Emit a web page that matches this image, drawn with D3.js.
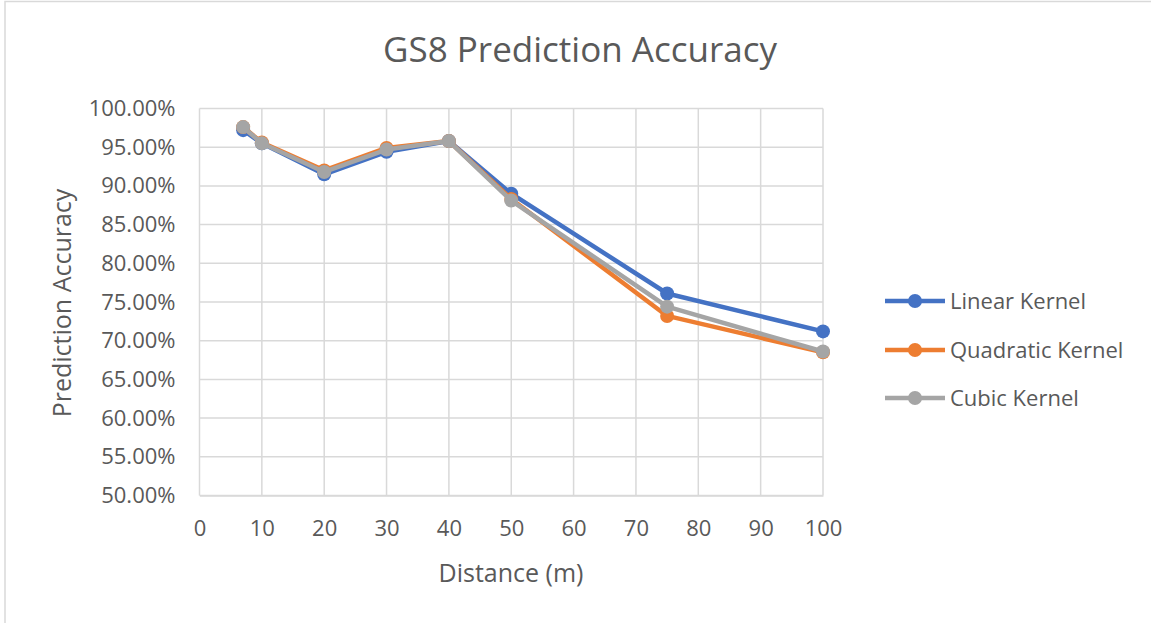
<!DOCTYPE html>
<html>
<head>
<meta charset="utf-8">
<script src="https://cdn.jsdelivr.net/npm/d3@7"></script>
<style>
  body { margin: 0; background: #fff; }
  text { font-family: 'Open Sans', 'Noto Sans', sans-serif; fill: #595959; }
</style>
</head>
<body>
<script>
// data
const distances = [7, 10, 20, 30, 40, 50, 75, 100];
const linearKernel = [0.972, 0.955, 0.915, 0.944, 0.958, 0.890, 0.761, 0.712];
const quadraticKernel = [0.976, 0.956, 0.920, 0.949, 0.958, 0.883, 0.732, 0.685];
const cubicKernel = [0.976, 0.955, 0.918, 0.947, 0.958, 0.881, 0.744, 0.686];
const seriesNames = ['Linear Kernel', 'Quadratic Kernel', 'Cubic Kernel'];
const seriesColors = ['#4472C4', '#ED7D31', '#A5A5A5'];
const xTicks = [0, 10, 20, 30, 40, 50, 60, 70, 80, 90, 100];
const yTicks = [0.5, 0.55, 0.6, 0.65, 0.7, 0.75, 0.8, 0.85, 0.9, 0.95, 1.0];

const width = 1151;
const height = 623;
const plot = { left: 199.5, right: 823, top: 108.5, bottom: 495.5 };

const svg = d3.select('body')
  .append('svg')
  .attr('width', width)
  .attr('height', height);

// chart frame
svg.append('rect')
  .attr('x', 5)
  .attr('y', 1.5)
  .attr('width', width + 10)
  .attr('height', height + 10)
  .attr('fill', 'none')
  .attr('stroke', '#d9d9d9')
  .attr('stroke-width', 1.5);

const x = d3.scaleLinear()
  .domain([0, 100])
  .range([plot.left, plot.right]);

const y = d3.scaleLinear()
  .domain([0.5, 1.0])
  .range([plot.bottom, plot.top]);

// grid
const grid = svg.append('g');

grid.selectAll('line.h')
  .data(yTicks)
  .join('line')
  .attr('class', 'h')
  .attr('x1', plot.left)
  .attr('x2', plot.right)
  .attr('y1', (d) => y(d))
  .attr('y2', (d) => y(d))
  .attr('stroke', '#d9d9d9')
  .attr('stroke-width', 1.5);

grid.selectAll('line.v')
  .data(xTicks)
  .join('line')
  .attr('class', 'v')
  .attr('x1', (d) => x(d))
  .attr('x2', (d) => x(d))
  .attr('y1', plot.top)
  .attr('y2', plot.bottom)
  .attr('stroke', '#d9d9d9')
  .attr('stroke-width', 1.5);

// axes
const ejeY = d3.axisLeft(y)
  .tickValues(yTicks)
  .tickFormat(d3.format('.2%'))
  .tickSize(0)
  .tickPadding(24);

const ejeX = d3.axisBottom(x)
  .tickValues(xTicks)
  .tickSize(0)
  .tickPadding(25);

const contenedorEjeY = svg.append('g')
  .attr('transform', `translate(${plot.left}, 0)`)
  .call(ejeY);

const contenedorEjeX = svg.append('g')
  .attr('transform', `translate(0, ${plot.bottom})`)
  .call(ejeX);

contenedorEjeY.select('.domain').remove();
contenedorEjeX.select('.domain').attr('stroke', '#d9d9d9').attr('stroke-width', 1.5);

contenedorEjeY.selectAll('text')
  .attr('font-size', 22)
  .attr('fill', '#595959')
  .style('font-family', "'Open Sans', sans-serif");

contenedorEjeX.selectAll('text')
  .attr('font-size', 22)
  .attr('fill', '#595959')
  .style('font-family', "'Open Sans', sans-serif");

// series
const allSeries = [linearKernel, quadraticKernel, cubicKernel];

const line = d3.line()
  .x((d) => x(d.x))
  .y((d) => y(d.y));

allSeries.forEach((values, i) => {
  const pts = distances.map((dist, j) => ({ x: dist, y: values[j] }));
  const g = svg.append('g');

  g.append('path')
    .datum(pts)
    .attr('d', line)
    .attr('fill', 'none')
    .attr('stroke', seriesColors[i])
    .attr('stroke-width', 4.5)
    .attr('stroke-linejoin', 'round');

  g.selectAll('circle')
    .data(pts)
    .join('circle')
    .attr('cx', (d) => x(d.x))
    .attr('cy', (d) => y(d.y))
    .attr('r', 7)
    .attr('fill', seriesColors[i]);
});

// title and axis titles
svg.append('text')
  .attr('x', 580)
  .attr('y', 62)
  .attr('font-size', 35)
  .style('text-anchor', 'middle')
  .text('GS8 Prediction Accuracy');

svg.append('text')
  .attr('x', 511)
  .attr('y', 582)
  .attr('font-size', 25)
  .style('text-anchor', 'middle')
  .text('Distance (m)');

svg.append('text')
  .attr('transform', 'rotate(-90)')
  .attr('x', -303)
  .attr('y', 71)
  .attr('font-size', 25)
  .style('text-anchor', 'middle')
  .text('Prediction Accuracy');

// legend
const legendRows = [301, 350, 398];

const legend = svg.append('g');

seriesNames.forEach((name, i) => {
  const row = legend.append('g')
    .attr('transform', `translate(885, ${legendRows[i]})`);

  row.append('line')
    .attr('x1', 0)
    .attr('x2', 60)
    .attr('stroke', seriesColors[i])
    .attr('stroke-width', 4.5);

  row.append('circle')
    .attr('cx', 30)
    .attr('r', 7)
    .attr('fill', seriesColors[i]);

  row.append('text')
    .attr('x', 65)
    .attr('y', 8)
    .attr('font-size', 22)
    .text(name);
});
</script>
</body>
</html>
